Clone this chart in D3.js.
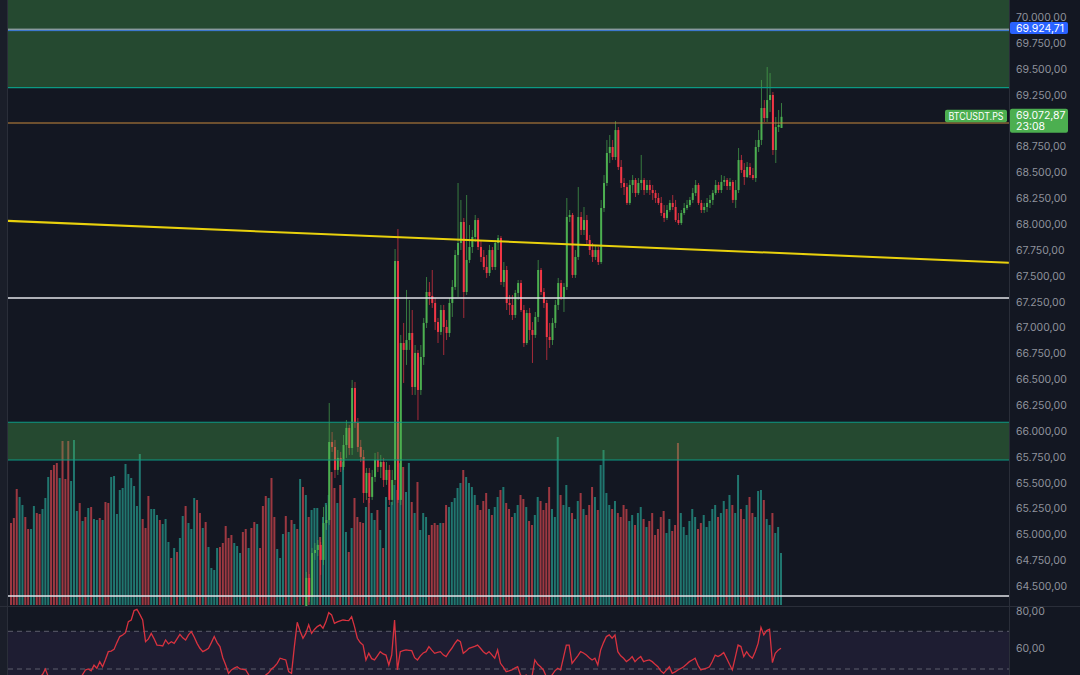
<!DOCTYPE html>
<html>
<head>
<meta charset="utf-8">
<script src="https://cdn.jsdelivr.net/npm/d3@7"></script>
<style>
  body { margin: 0; background: #131722; }
  svg { display: block; }
</style>
</head>
<body>
<div id="chart"></div>
<script>
// ---- data ---------------------------------------------------------------//
var N = 270,            // number of bars (volume / rsi)
    candleStart = 103;  // first bar whose candle is inside the visible price range

var candleOpen = [64311,64582,64398,64823,64852,64901,64756,65113,65142,65896,65848,65626,65742,65655,65867,66032,65838,66418,66080,65848,
  65751,65403,65597,65365,65558,65722,65655,65703,65529,65626,65336,65529,67646,65336,66853,66786,66882,66950,66428,66757,
  66399,66718,67047,67346,67308,67240,67056,66960,67172,67008,66950,67240,67395,67704,67820,68023,67346,67656,67781,67878,
  68042,67781,67685,67588,67530,67752,67588,67820,67868,67443,67559,67240,67221,67124,67337,67433,67172,66853,67143,66979,
  66931,67105,67559,67346,67240,66911,66882,67047,67221,67433,67298,67395,68071,68091,67511,67685,68071,67946,68042,67849,
  67752,67685,67752,67636,68158,68400,68690,68748,68651,68912,68555,68400,68361,68207,68381,68429,68303,68400,68429,68332,
  68381,68332,68303,68255,68207,68110,68062,68139,68207,68168,68042,68013,68110,68158,68187,68236,68303,68381,68207,68139,
  68168,68207,68236,68303,68381,68332,68410,68429,68371,68410,68236,68332,68622,68526,68458,68555,68477,68448,68748,68816,
  69125,69028,69202,69251,68719,68941,68932];
var candleHigh = [64640,64620,64872,64920,64949,64930,65268,65287,66273,65993,65916,65819,65800,65964,66109,66061,66496,66476,66128,65916,
  65819,65645,65645,65626,65790,65800,65771,65742,65703,65674,65626,67762,67955,66931,67047,67366,67269,67172,66834,66786,
  66834,67095,67491,67443,67559,67288,67095,67221,67221,67076,67288,67462,67752,68400,68236,68062,68284,67994,67946,68091,
  68062,67849,67752,67704,67801,67781,67849,67897,67888,67636,67598,67317,67317,67366,67462,67462,67221,67172,67192,67056,
  67153,67656,67578,67385,67269,67047,67095,67269,67482,67462,67433,68255,68139,68110,67752,68361,68120,68168,68091,67897,
  67820,67801,67781,68236,68477,68816,68864,68816,68999,68941,68622,68448,68400,68429,68477,68448,68448,68671,68448,68429,
  68429,68381,68332,68303,68265,68187,68187,68236,68284,68236,68110,68139,68207,68236,68265,68352,68429,68400,68236,68207,
  68255,68284,68332,68429,68410,68477,68468,68448,68448,68429,68429,68738,68671,68593,68603,68593,68545,68816,68912,69396,
  69202,69521,69463,69280,69038,69106,69173];
var candleLow = [64272,64350,64321,64756,64794,64611,64707,65046,65094,65800,65548,65577,65606,65626,65742,65771,65771,66032,65800,65703,
  65307,65336,65307,65336,65510,65606,65548,65461,65481,65287,65287,65481,65307,65287,66467,66641,66786,66351,66351,66109,
  66351,66641,66998,67221,67192,66979,66853,66931,66737,66882,66911,67105,67366,67298,67752,67095,67317,67627,67723,67830,
  67752,67636,67559,67482,67501,67559,67559,67752,67414,67395,67172,67124,67076,67095,67269,67153,66815,66834,66882,66660,
  66902,67056,67317,67192,66689,66805,66834,66998,67172,67269,67153,67366,68023,67482,67482,67656,67897,67897,67801,67704,
  67636,67656,67607,67617,68120,68371,68593,68622,68622,68526,68352,68284,68187,68187,68303,68265,68284,68332,68284,68303,
  68284,68236,68207,68187,68081,68023,68042,68120,68139,68023,67994,67994,68091,68139,68168,68207,68274,68187,68110,68110,
  68120,68158,68187,68284,68303,68303,68371,68332,68332,68207,68158,68303,68497,68381,68448,68448,68429,68410,68700,68767,
  68990,68990,69086,68671,68593,68893,68932];
var candleClose = [64582,64398,64823,64852,64901,64756,65113,65142,65896,65848,65626,65742,65655,65867,66032,65838,66418,66080,65848,65751,
  65403,65597,65365,65558,65722,65655,65703,65529,65626,65336,65529,67646,65336,66853,66786,66882,66950,66428,66757,66399,
  66718,67047,67346,67308,67240,67056,66960,67172,67008,66950,67240,67395,67704,67820,68023,67346,67656,67781,67878,68042,
  67781,67685,67588,67530,67752,67588,67820,67868,67443,67559,67240,67221,67124,67337,67433,67172,66853,67143,66979,66931,
  67105,67559,67346,67240,66911,66882,67047,67221,67433,67298,67395,68071,68091,67511,67685,68071,67946,68042,67849,67752,
  67685,67752,67636,68158,68400,68690,68748,68651,68912,68555,68400,68361,68207,68381,68429,68303,68400,68429,68332,68381,
  68332,68303,68255,68207,68110,68062,68139,68207,68168,68042,68013,68110,68158,68187,68236,68303,68381,68207,68139,68168,
  68207,68236,68303,68381,68332,68410,68429,68371,68410,68236,68332,68622,68526,68458,68555,68477,68448,68748,68816,69125,
  69028,69202,69251,68719,68941,68961,69040];

var volume = [82,87,116,108,100,88,76,76,99,92, 91,96,107,128,135,140,142,127,164,126,
  164,124,165,94,102,84,88,97,98,86, 85,87,85,103,102,128,129,91,115,117,
  141,131,127,119,99,151,86,77,109,96, 96,90,85,81,86,63,47,57,53,67,
  89,99,82,76,107,105,92,77,83,58, 37,35,57,58,62,79,67,70,62,59,
  52,73,76,57,77,83,81,57,99,109, 107,127,88,56,47,71,89,73,85,81,
  76,126,
  118,110,88,95,97,97,68,88,102,110, 133,117,102,120,143,73,53,77,107,88,
  83,82,98,107,92,85,95,75,57,108, 98,103,120,115,142,138,113,142,103,92,
  123,75,92,88,70,80,82,80,82,82, 100,98,103,107,117,122,
  135,128,122,118,110,100,95,104,112,96,90,98,
  108,115,118,102,96,88,92,100,110,106,98,84,
  80,90,108,104,95,102,118,96,88,168,110,100,
  120,98,92,86,104,112,96,90,100,118,108,95,
  140,155,112,100,96,104,92,88,100,96,84,90,
  80,92,98,86,78,84,92,70,76,88,94,72,
  86,74,80,162,92,78,70,84,96,88,76,82,
  90,78,84,96,100,88,92,104,96,110,100,92,
  130,96,86,100,108,92,88,114,115,105,86,80,
  92,72,78,52];
// direction of the bars left of the visible candles (1 = up, 0 = down)
var volumeUpEarly = [0,0,0,1,1,0,0,1,1,0, 0,1,1,1,0,0,0,1,0,0, 0,1,1,1,0,1,0,1,0,1,
  1,0,1,0,0,1,1,1,1,1, 1,1,1,1,1,1,0,0,0,1, 1,1,0,1,1,1,0,1,0,1,
  1,0,1,1,1,0,0,1,0,1, 1,1,1,0,0,0,0,0,1,1, 1,0,0,1,0,0,1,0,0,0,
  1,0,0,1,1,1,0,1,0,1, 0,1,0];

var rsi = [41,39,37,39,42,44,41,43,45,44, 46,47,50,46,43,41,40,42,44,41,
  39,42,44,43,45,47,49.5,50,49,52, 50.4,53.9,51.2,55,59.2,59.5,60.4,64,67.2,68,
  69.3,75.1,76,81,81.7,79,76,64.5,66,68.9, 66,62.7,62.5,62.2,65.4,63.3,64.5,63.6,66,68.4,
  66.5,65.4,68.1,69.8,67,63.6,61,59.2,60,61, 64,67.2,64,61.9,56,52.1,47.7,49.5,50.5,51.2,
  50,49.8,49.5,47,45.1,44,43,44,45,46.8, 48,50,51.2,53,55.7,55.2,54.8,48.6,47.7,62,
  74.8,70,66.3,68.9,73.4,68.9,71,72.5,73.4,71.6, 75,79.9,78.7,74.2,75,75.5,76,75.8,75.7,77.8,
  72.5,66.3,64,62.7,54.8,58.3,55.5,54.8,57,59.2, 58,57.4,52.1,57.4,76,49.5,59.2,59.8,60.1,59.9,
  59.7,56,54.8,57,58.5,59.2,61.9,60,58.3,58.8, 59.2,57.5,56.6,59,61,63.5,65.4,64.5,58.3,59.5,
  61,61.5,62,62.7,61,59.2,58,59.2,57.5,55.7, 60.1,53,51,48.6,49,49.5,50.5,51.2,46.8,46,
  46.8,45.5,46,54.8,52.5,51.2,49.5,46,45,46.8, 49,50.4,49.5,56,62.7,62.7,53,55,57,59.2,
  58.5,57.4,56,54.8,55.7,52.1,60.1,64,67.2,68.1, 66.3,68.1,59.2,57,55.7,53.9,55,56.6,53.9,55.5,
  56.6,53.9,54.5,54.8,53.9,52.5,51.2,49,47.7,49.5, 51.2,47.7,48.5,49.5,50.3,51.2,52.5,53.9,54.8,55.7,
  52,49.5,50,50.4,51.2,54,57.4,56.6,57.5,58.7, 55.7,52.5,49.5,56,62.7,61.9,56.6,59.2,57,55.7,
  59.2,63.6,72.1,68.1,70.4,71.1,53.4,58.3,60,61];

var priceTicks = d3.range(64500, 70001, 250),
    rsiTicks = [80, 60],
    rsiLevels = [70, 50];

// drawn objects (prices)
var topZone = [69323, 70400],
    lowZone = [65722, 66087],
    whiteLevels = [67288, 64407],
    orangeLevel = 68980,
    alertLevel = 69880,
    alertText = "69.924,71",
    lastText = "69.072,87",
    timerText = "23:08",
    symbolText = "BTCUSDT.PS",
    trendLine = [[-3.8, 68037], [348.6, 67630]];

// ---- layout -------------------------------------------------------------//
var W = 1080, H = 675,
    left = 8, right = 1009,
    priceBottom = 606;

var fmt = d3.formatLocale({decimal: ",", thousands: ".", grouping: [3], currency: ["", ""]}).format(",.2f");

var svg = d3.select("#chart").append("svg")
  .attr("width", W).attr("height", H)
  .style("font-family", "Inter, 'Noto Sans', sans-serif");

svg.append("rect").attr("width", W).attr("height", H).attr("fill", "#131722");
svg.append("rect").attr("width", left - 1).attr("height", H).attr("fill", "#1a1e29");

var defs = svg.append("defs");
defs.append("clipPath").attr("id", "pricePane")
  .append("rect").attr("x", left).attr("y", 0).attr("width", right - left).attr("height", priceBottom);
defs.append("clipPath").attr("id", "rsiPane")
  .append("rect").attr("x", left).attr("y", priceBottom + 1).attr("width", right - left).attr("height", H - priceBottom);

// scales
var x = d3.scaleLinear().domain([0, N - 1]).range([11, 781]);
var y = d3.scaleLinear().domain([64500, 70000]).range([586.4, 17.5]);
var yVol = d3.scaleLinear().domain([0, 170]).range([605, 435]);
var yRsi = d3.scaleLinear().domain([50, 70]).range([669, 631.3]);

var up = "#4caf50", down = "#f23645",
    volUp = "#20766f", volDown = "#9d3841";

var candles = candleOpen.map(function(o, k) {
  return {i: candleStart + k, o: o, h: candleHigh[k], l: candleLow[k], c: candleClose[k]};
});

function isUp(i) {
  if (i < candleStart) return volumeUpEarly[i] === 1;
  var d = candles[i - candleStart];
  return d.c >= d.o;
}

var pricePane = svg.append("g").attr("clip-path", "url(#pricePane)");

// volume
pricePane.append("g").selectAll("rect")
  .data(volume)
  .enter().append("rect")
  .attr("x", function(d, i) { return x(i) - 1; })
  .attr("width", 2)
  .attr("y", function(d) { return yVol(d); })
  .attr("height", function(d) { return yVol(0) - yVol(d); })
  .attr("fill", function(d, i) { return isUp(i) ? volUp : volDown; });

// candles
var cg = pricePane.append("g");
cg.selectAll("line")
  .data(candles)
  .enter().append("line")
  .attr("x1", function(d) { return x(d.i) + 0.5; })
  .attr("x2", function(d) { return x(d.i) + 0.5; })
  .attr("y1", function(d) { return y(d.h); })
  .attr("y2", function(d) { return y(d.l); })
  .attr("stroke", function(d) { return d.c >= d.o ? up : down; })
  .attr("stroke-opacity", 0.65)
  .attr("stroke-width", 1);
cg.selectAll("rect")
  .data(candles)
  .enter().append("rect")
  .attr("x", function(d) { return x(d.i) - 0.5; })
  .attr("width", 2)
  .attr("y", function(d) { return y(Math.max(d.o, d.c)); })
  .attr("height", function(d) { return Math.max(1, Math.abs(y(d.o) - y(d.c))); })
  .attr("fill", function(d) { return d.c >= d.o ? up : down; });

// zones
[topZone, lowZone].forEach(function(z) {
  pricePane.append("rect")
    .attr("x", left).attr("width", right - left)
    .attr("y", y(z[1])).attr("height", y(z[0]) - y(z[1]))
    .attr("fill", "#4caf50").attr("fill-opacity", 0.33);
});
[topZone[0], lowZone[0], lowZone[1]].forEach(function(p) {
  pricePane.append("line")
    .attr("x1", left).attr("x2", right)
    .attr("y1", y(p)).attr("y2", y(p))
    .attr("stroke", "#0c9a84").attr("stroke-width", 1.2);
});

// horizontal levels
whiteLevels.forEach(function(p) {
  pricePane.append("line")
    .attr("x1", left).attr("x2", right)
    .attr("y1", y(p)).attr("y2", y(p))
    .attr("stroke", "#e3e5ea").attr("stroke-width", 1.3);
});
pricePane.append("line")
  .attr("x1", left).attr("x2", right)
  .attr("y1", y(orangeLevel)).attr("y2", y(orangeLevel))
  .attr("stroke", "#c88a3c").attr("stroke-width", 1);
pricePane.append("line")
  .attr("x1", left).attr("x2", right)
  .attr("y1", y(alertLevel) - 0.7).attr("y2", y(alertLevel) - 0.7)
  .attr("stroke", "#b4bccb").attr("stroke-width", 1);
pricePane.append("line")
  .attr("x1", left).attr("x2", right)
  .attr("y1", y(alertLevel) + 0.7).attr("y2", y(alertLevel) + 0.7)
  .attr("stroke", "#3f7ee0").attr("stroke-width", 1);

// trend line
pricePane.append("path")
  .datum(trendLine)
  .attr("fill", "none")
  .attr("stroke", "#e9d10d")
  .attr("stroke-width", 2)
  .attr("d", d3.line().x(function(d) { return x(d[0]); }).y(function(d) { return y(d[1]); }));

// pane separators
svg.append("line").attr("x1", left - 0.5).attr("x2", left - 0.5).attr("y1", 0).attr("y2", H)
  .attr("stroke", "#2a2e39");
svg.append("line").attr("x1", right + 0.5).attr("x2", right + 0.5).attr("y1", 0).attr("y2", H)
  .attr("stroke", "#2a2e39");
svg.append("line").attr("x1", 0).attr("x2", W).attr("y1", priceBottom + 0.5).attr("y2", priceBottom + 0.5)
  .attr("stroke", "#2a2e39");

// axis label positions of the last price box (ticks under it are hidden)
var ya = y(alertLevel),
    yl = y(candleClose[candleClose.length - 1]);

// price axis
var axis = svg.append("g").attr("font-size", 10.5).attr("fill", "#8f929c");
axis.selectAll("text.tick")
  .data(priceTicks.filter(function(d) { return y(d) < yl - 12 || y(d) > yl + 22; }))
  .enter().append("text")
  .attr("class", "tick")
  .attr("x", 1016)
  .attr("y", function(d) { return y(d); })
  .attr("dy", "0.35em")
  .text(function(d) { return fmt(d); });

// RSI pane
var rsiPane = svg.append("g").attr("clip-path", "url(#rsiPane)");
rsiPane.append("rect")
  .attr("x", left).attr("width", right - left)
  .attr("y", yRsi(70)).attr("height", yRsi(30) - yRsi(70))
  .attr("fill", "#7e57c2").attr("fill-opacity", 0.1);
rsiPane.selectAll("line.level")
  .data(rsiLevels)
  .enter().append("line")
  .attr("class", "level")
  .attr("x1", left).attr("x2", right)
  .attr("y1", function(d) { return yRsi(d); })
  .attr("y2", function(d) { return yRsi(d); })
  .attr("stroke", "#787b86").attr("stroke-opacity", 0.7)
  .attr("stroke-dasharray", "5 4");
rsiPane.append("path")
  .datum(rsi)
  .attr("fill", "none")
  .attr("stroke", "#d8323f")
  .attr("stroke-width", 1.3)
  .attr("d", d3.line().x(function(d, i) { return x(i); }).y(function(d) { return yRsi(d); }));

axis.selectAll("text.rsi")
  .data(rsiTicks)
  .enter().append("text")
  .attr("class", "rsi")
  .attr("x", 1016)
  .attr("y", function(d) { return yRsi(d) - 1.5; })
  .attr("dy", "0.35em")
  .text(function(d) { return fmt(d); });

// labels on the axis
svg.append("rect").attr("x", 1010).attr("y", ya - 8).attr("width", 58).attr("height", 12)
  .attr("rx", 2).attr("fill", "#2962ff");
svg.append("text").attr("x", 1016).attr("y", ya - 1.3).attr("dy", "0.35em")
  .attr("font-size", 10.5).attr("fill", "#ffffff").text(alertText);

svg.append("rect").attr("x", 1010).attr("y", yl - 8).attr("width", 58).attr("height", 24)
  .attr("rx", 2).attr("fill", "#4caf50");
svg.append("text").attr("x", 1016).attr("y", yl - 1).attr("dy", "0.35em")
  .attr("font-size", 10.5).attr("fill", "#ffffff").text(lastText);
svg.append("text").attr("x", 1016).attr("y", yl + 10).attr("dy", "0.35em")
  .attr("font-size", 10.5).attr("fill", "#ffffff").text(timerText);
svg.append("rect").attr("x", 945).attr("y", yl - 7).attr("width", 62).attr("height", 12.5)
  .attr("rx", 2).attr("fill", "#4caf50");
svg.append("text").attr("x", 948.5).attr("y", yl - 0.7).attr("dy", "0.35em")
  .attr("font-size", 10).attr("textLength", 55).attr("lengthAdjust", "spacingAndGlyphs")
  .attr("fill", "#ffffff").text(symbolText);
</script>
</body>
</html>
